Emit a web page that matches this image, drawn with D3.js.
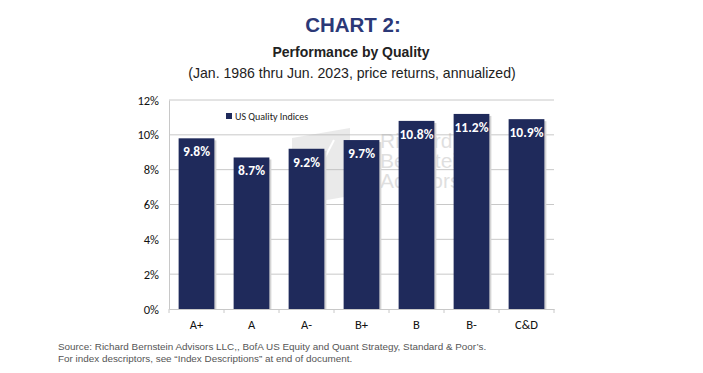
<!DOCTYPE html>
<html>
  <head>
    <meta charset="utf-8">
    <title>Chart 2</title>
    <script src="https://cdn.jsdelivr.net/npm/d3@7"></script>
    <style type="text/css">
      body { margin: 0; background: #fff; }
      svg { display: block; }
    </style>
  </head>
  <body>
    <script>
    // data
    var categories = ["A+", "A", "A-", "B+", "B", "B-", "C&D"];
    var values = [9.8, 8.7, 9.2, 9.7, 10.8, 11.2, 10.9];
    var yTicks = [0, 2, 4, 6, 8, 10, 12];
    var seriesName = "US Quality Indices";

    var width = 703, height = 373;
    var margin = {top: 100, right: 149, bottom: 64, left: 169};

    var svg = d3.select("body").append("svg")
        .attr("width", width)
        .attr("height", height);

    // titles
    svg.append("text")
      .attr("x", 353).attr("y", 32)
      .attr("text-anchor", "middle")
      .style("font-family", "Liberation Sans, Arial, sans-serif")
      .style("font-weight", "bold")
      .style("font-size", "20.5px")
      .style("fill", "#2b3877")
      .text("CHART 2:");

    svg.append("text")
      .attr("x", 351).attr("y", 57)
      .attr("text-anchor", "middle")
      .style("font-family", "Liberation Sans Narrow, Arial Narrow, sans-serif")
      .style("font-weight", "bold")
      .style("font-size", "14px")
      .style("fill", "#222")
      .text("Performance by Quality");

    svg.append("text")
      .attr("x", 352).attr("y", 78)
      .attr("text-anchor", "middle")
      .style("font-family", "Liberation Sans Narrow, Arial Narrow, sans-serif")
      .style("font-size", "14.1px")
      .style("fill", "#222")
      .text("(Jan. 1986 thru Jun. 2023, price returns, annualized)");

    var x = d3.scaleBand()
        .domain(categories)
        .range([margin.left, width - margin.right])
        .paddingInner(0.35)
        .paddingOuter(0.175);

    var y = d3.scaleLinear()
        .domain([0, 12])
        .range([height - margin.bottom, margin.top]);

    // gridlines
    svg.append("g")
      .selectAll("line")
      .data(yTicks.slice(1))
      .enter()
      .append("line")
        .attr("x1", margin.left)
        .attr("x2", width - margin.right)
        .attr("y1", function(d) { return y(d); })
        .attr("y2", function(d) { return y(d); })
        .style("stroke", "#c8c8c8")
        .style("stroke-width", 1);

    // faint watermark behind the bars
    var wm = svg.append("g").style("opacity", 0.3);
    wm.append("path")
      .attr("d", "M292,138 L350,128 L350,196 L292,206 Z")
      .style("fill", "#bbb");
    wm.append("line")
      .attr("x1", 308).attr("y1", 190).attr("x2", 334).attr("y2", 140)
      .style("stroke", "#fff").style("stroke-width", 2);
    ["Richard", "Bernstein", "Advisors"].forEach(function(t, i) {
      wm.append("text")
        .attr("x", 380).attr("y", 148 + i * 20)
        .style("font-family", "Liberation Sans Narrow, Arial Narrow, sans-serif")
        .style("font-size", "21px")
        .style("fill", "#999")
        .text(t);
    });

    // y axis
    var yAxis = svg.append("g")
      .attr("transform", "translate(" + margin.left + ",0)")
      .call(d3.axisLeft(y).tickValues(yTicks).tickSize(0).tickPadding(10)
        .tickFormat(function(d) { return d + "%"; }));
    yAxis.select(".domain").style("stroke", "#c8c8c8");
    yAxis.selectAll("text")
      .style("font-family", "Carlito, Calibri, Liberation Sans, sans-serif")
      .style("font-size", "12.5px")
      .style("fill", "#111");

    // bars with a soft shadow
    svg.append("g")
      .selectAll("rect")
      .data(values)
      .enter()
      .append("rect")
        .attr("x", function(d, i) { return x(categories[i]) + 2; })
        .attr("y", function(d) { return y(d) + 2; })
        .attr("width", x.bandwidth())
        .attr("height", function(d) { return y(0) - y(d) - 2; })
        .style("fill", "#d4d4d4");

    svg.append("g")
      .selectAll("rect")
      .data(values)
      .enter()
      .append("rect")
        .attr("x", function(d, i) { return x(categories[i]); })
        .attr("y", function(d) { return y(d); })
        .attr("width", x.bandwidth())
        .attr("height", function(d) { return y(0) - y(d); })
        .style("fill", "#1f2a5b");

    // value labels
    svg.append("g")
      .selectAll("text")
      .data(values)
      .enter()
      .append("text")
        .attr("x", function(d, i) { return x(categories[i]) + x.bandwidth() / 2; })
        .attr("y", function(d) { return y(d) + 18; })
        .attr("text-anchor", "middle")
        .style("font-family", "Carlito, Calibri, Liberation Sans, sans-serif")
        .style("font-weight", "bold")
        .style("font-size", "13.5px")
        .style("fill", "#fff")
        .text(function(d) { return d.toFixed(1) + "%"; });

    // x axis
    var xAxis = svg.append("g")
      .attr("transform", "translate(0," + y(0) + ")")
      .call(d3.axisBottom(x).tickSize(0).tickPadding(11));
    xAxis.select(".domain").style("stroke", "#c8c8c8");
    xAxis.selectAll("text")
      .style("font-family", "Carlito, Calibri, Liberation Sans, sans-serif")
      .style("font-size", "12.5px")
      .style("fill", "#111");
    // category separator ticks
    var edges = categories.map(function(c) { return x(c) - x.step() * x.paddingInner() / 2; });
    edges.push(width - margin.right);
    xAxis.selectAll(".sep")
      .data(edges)
      .enter()
      .append("line")
        .attr("class", "sep")
        .attr("x1", function(d) { return d; })
        .attr("x2", function(d) { return d; })
        .attr("y1", 0).attr("y2", 4)
        .style("stroke", "#c8c8c8");

    // legend
    var legend = svg.append("g").attr("transform", "translate(226,117)");
    legend.append("rect")
      .attr("x", 0).attr("y", -4).attr("width", 6).attr("height", 6)
      .style("fill", "#1f2a5b");
    legend.append("text")
      .attr("x", 9).attr("y", 2.5)
      .style("font-family", "Carlito, Calibri, Liberation Sans, sans-serif")
      .style("font-size", "10px")
      .style("fill", "#222")
      .text(seriesName);

    // source note
    var notes = [
      "Source: Richard Bernstein Advisors LLC,, BofA US Equity and Quant Strategy, Standard & Poor\u2019s.",
      "For index descriptors, see \u201cIndex Descriptions\u201d at end of document."
    ];
    svg.append("g")
      .selectAll("text")
      .data(notes)
      .enter()
      .append("text")
        .attr("x", 58)
        .attr("y", function(d, i) { return 350 + i * 12; })
        .style("font-family", "Liberation Sans, Arial, sans-serif")
        .style("font-size", "9.9px")
        .style("fill", "#555")
        .text(function(d) { return d; });
    </script>
  </body>
</html>
